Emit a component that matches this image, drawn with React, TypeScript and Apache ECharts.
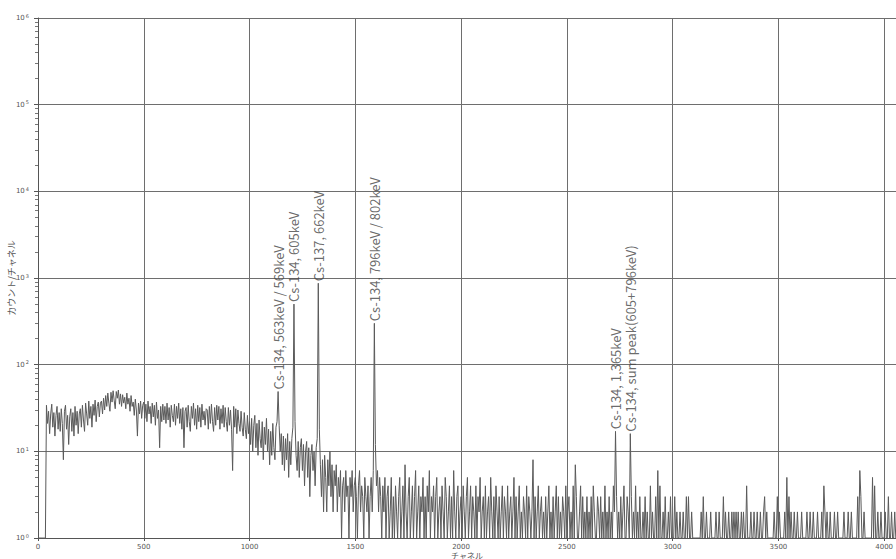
import React, { useEffect, useRef } from "react";
import * as echarts from "echarts";

// channel step between stored values
const CHANNEL_STEP = 5;

// counts per 5-channel step, channels 0 - 995
const spectrumLow = [
  1, 1, 1, 1, 1, 1, 1, 1, 34, 21, 29, 16, 27, 35, 19, 28, 15, 26, 33, 18,
  28, 17, 31, 21, 8, 29, 34, 18, 26, 12, 25, 31, 17, 28, 15, 33, 20, 29, 16, 27,
  31, 19, 34, 23, 17, 36, 27, 20, 38, 24, 33, 19, 35, 26, 39, 22, 33, 37, 25, 36,
  38, 27, 41, 30, 44, 33, 47, 36, 29, 48, 37, 50, 39, 31, 49, 41, 51, 35, 46, 33,
  45, 36, 42, 31, 47, 35, 41, 29, 44, 33, 37, 26, 40, 30, 15, 36, 27, 38, 24, 34,
  37, 24, 35, 22, 38, 27, 33, 21, 36, 25, 34, 20, 37, 24, 30, 11, 33, 22, 35, 23,
  33, 21, 36, 23, 32, 19, 34, 26, 22, 35, 20, 33, 24, 36, 21, 31, 18, 32, 11, 29,
  32, 19, 34, 22, 17, 33, 24, 36, 20, 31, 18, 34, 22, 32, 19, 35, 23, 29, 20, 31,
  30, 18, 33, 21, 35, 22, 17, 32, 20, 34, 23, 33, 18, 31, 21, 34, 19, 32, 22, 17,
  32, 20, 30, 18, 6, 33, 19, 31, 16, 30, 21, 17, 29, 19, 15, 28, 18, 14, 26, 16,
];

// channels 1000 - 1995
const spectrumMid = [
  22, 12, 24, 10, 20, 26, 11, 21, 9, 23, 14, 11, 22, 8, 19, 12, 24, 10, 18, 7,
  17, 9, 21, 11, 8, 19, 22, 49, 20, 10, 16, 7, 15, 6, 14, 8, 16, 5, 13, 7,
  14, 19, 500, 22, 9, 6, 13, 5, 11, 14, 6, 12, 4, 10, 13, 5, 11, 3, 9, 12,
  6, 10, 4, 11, 14, 870, 18, 7, 3, 8, 2, 9, 5, 2, 8, 4, 10, 3, 7, 2,
  6, 4, 7, 2, 5, 3, 6, 1, 4, 5, 2, 6, 3, 4, 1, 5, 3, 6, 2, 4,
  5, 3, 1, 4, 6, 2, 4, 3, 1, 5, 3, 2, 4, 1, 3, 5, 2, 6, 300, 12,
  4, 6, 2, 5, 3, 1, 4, 2, 5, 1, 3, 4, 1, 2, 5, 1, 3, 1, 4, 2,
  1, 3, 5, 1, 2, 4, 1, 7, 2, 1, 3, 5, 1, 2, 4, 1, 3, 6, 1, 2,
  4, 1, 3, 2, 5, 1, 3, 1, 4, 2, 6, 1, 3, 2, 4, 1, 3, 5, 1, 2,
  3, 1, 4, 2, 1, 5, 3, 1, 2, 4, 1, 3, 1, 6, 2, 1, 3, 4, 1, 2,
];

// channels 2000 - 2995
const spectrumHigh = [
  3, 1, 4, 2, 1, 3, 5, 1, 2, 4, 1, 3, 2, 1, 4, 1, 3, 2, 5, 1,
  2, 3, 1, 4, 1, 2, 3, 1, 5, 2, 1, 3, 1, 4, 2, 1, 3, 1, 2, 4,
  1, 3, 2, 1, 4, 1, 2, 3, 1, 2, 5, 1, 3, 1, 2, 4, 1, 2, 1, 3,
  2, 1, 4, 1, 3, 2, 1, 2, 8, 1, 3, 1, 2, 4, 1, 2, 3, 1, 2, 1,
  3, 1, 2, 4, 1, 2, 1, 3, 1, 2, 4, 1, 3, 1, 2, 1, 3, 2, 1, 4,
  1, 2, 3, 1, 2, 1, 4, 1, 7, 3, 1, 1, 2, 4, 1, 3, 1, 2, 1, 3,
  1, 2, 1, 3, 1, 4, 2, 1, 1, 3, 2, 1, 3, 1, 2, 1, 4, 1, 2, 1,
  3, 1, 2, 1, 4, 2, 17, 3, 1, 2, 1, 3, 1, 2, 4, 1, 1, 3, 2, 1,
  16, 3, 1, 2, 1, 4, 1, 2, 1, 3, 1, 1, 2, 1, 3, 1, 2, 1, 1, 4,
  1, 2, 1, 1, 3, 1, 6, 1, 4, 1, 1, 2, 1, 3, 1, 1, 2, 1, 3, 1,
];

// channels 3000 - 4055
const spectrumTail = [
  1, 1, 3, 1, 2, 1, 1, 2, 1, 1, 2, 1, 1, 3, 1, 3, 1, 1, 2, 1,
  1, 1, 1, 1, 1, 1, 1, 2, 1, 3, 1, 1, 2, 1, 1, 1, 2, 1, 1, 1,
  1, 2, 1, 1, 2, 1, 1, 1, 3, 1, 2, 1, 1, 2, 1, 1, 2, 1, 2, 1,
  2, 1, 2, 1, 1, 2, 1, 2, 1, 1, 4, 1, 1, 1, 2, 1, 1, 2, 1, 1,
  2, 1, 1, 2, 1, 1, 2, 3, 1, 2, 1, 1, 1, 1, 1, 1, 2, 1, 1, 3,
  1, 2, 1, 1, 1, 1, 2, 1, 5, 1, 3, 1, 2, 1, 1, 2, 1, 1, 2, 1,
  1, 1, 2, 1, 1, 1, 1, 2, 1, 1, 2, 1, 1, 2, 1, 1, 1, 2, 1, 1,
  1, 2, 1, 4, 2, 1, 2, 1, 1, 2, 1, 1, 1, 2, 1, 1, 2, 1, 1, 1,
  1, 1, 2, 1, 1, 1, 2, 1, 1, 2, 1, 1, 1, 1, 1, 3, 1, 6, 3, 1,
  1, 2, 1, 1, 1, 1, 1, 1, 1, 5, 1, 4, 1, 1, 2, 1, 1, 2, 1, 1,
  1, 2, 1, 1, 3, 1, 1, 2, 1, 1, 2, 1,
];

// peak annotations
const peakChannels = [1135, 1210, 1325, 1590, 2730, 2800];
const peakNames = [
  "Cs-134, 563keV / 569keV",
  "Cs-134, 605keV",
  "Cs-137, 662keV",
  "Cs-134, 796keV / 802keV",
  "Cs-134, 1,365keV",
  "Cs-134, sum peak(605+796keV)",
];

const xTickInterval = 500;
const yExponents = [0, 1, 2, 3, 4, 5, 6];
const minorMultipliers = [2, 3, 4, 5, 6, 7, 8, 9];

const FONT = "'Noto Sans CJK JP', 'DejaVu Sans', sans-serif";

export default function App() {
  const ref = useRef<HTMLDivElement>(null);
  useEffect(() => {
    if (!ref.current) return;
    const chart = echarts.init(ref.current, undefined, { renderer: "svg" });
    const counts = [...spectrumLow, ...spectrumMid, ...spectrumHigh, ...spectrumTail];
    const lineData = counts.map((c, i) => [i * CHANNEL_STEP, c]);
    const labelData = peakChannels.map((ch, i) => ({
      name: peakNames[i],
      value: [ch, counts[ch / CHANNEL_STEP]],
    }));
    const minorTicks: number[] = [];
    yExponents.slice(0, -1).forEach((e) => {
      minorMultipliers.forEach((m) => minorTicks.push(m * Math.pow(10, e)));
    });
    const gridColor = "#6e6e6e";
    chart.setOption({
      animation: false,
      backgroundColor: "#ffffff",
      grid: {
        left: 38,
        right: 0,
        top: 18,
        bottom: 21,
        containLabel: false,
        outerBoundsMode: "none",
      },
      xAxis: {
        type: "value",
        min: 0,
        max: 4056,
        interval: xTickInterval,
        name: "チャネル",
        nameLocation: "middle",
        nameGap: 13,
        nameMoveOverlap: false,
        nameTextStyle: { fontSize: 8, color: "#555", fontFamily: FONT },
        axisLine: { show: true, lineStyle: { color: "#555", width: 1 } },
        axisTick: { show: true, length: 3, lineStyle: { color: "#555" } },
        axisLabel: {
          fontSize: 7,
          color: "#555",
          margin: 5,
          showMaxLabel: false,
          fontFamily: "DejaVu Sans",
          formatter: (v: number) => String(v),
        },
        splitLine: { show: true, lineStyle: { color: gridColor, width: 1 } },
      },
      yAxis: [
        {
          type: "log",
          logBase: 10,
          min: 1,
          max: 1e6,
          name: "カウント/チャネル",
          nameLocation: "middle",
          nameGap: 22,
          nameRotate: 90,
          nameMoveOverlap: false,
          nameTextStyle: { fontSize: 9, color: "#555", fontFamily: FONT },
          axisLine: { show: true, lineStyle: { color: "#555", width: 1 } },
          axisTick: { show: true, length: 4, lineStyle: { color: "#555" } },
          axisLabel: {
            margin: 9,
            color: "#555",
            fontSize: 7,
            fontFamily: "DejaVu Sans",
            formatter: (v: number) => `10{s|${Math.round(Math.log10(v))}}`,
            rich: {
              s: { fontSize: 5, verticalAlign: "top", padding: [0, 0, 5, 1], color: "#555" },
            },
          },
          splitLine: { show: true, lineStyle: { color: gridColor, width: 1 } },
        },
        {
          type: "log",
          logBase: 10,
          min: 1,
          max: 1e6,
          position: "left",
          offset: 0,
          axisLine: { show: false },
          axisLabel: { show: false },
          splitLine: { show: false },
          axisTick: {
            show: true,
            length: 3,
            customValues: minorTicks,
            lineStyle: { color: "#777" },
          },
        },
      ],
      series: [
        {
          type: "line",
          data: lineData,
          showSymbol: false,
          symbol: "none",
          clip: true,
          lineStyle: { color: "#5a5a5a", width: 1 },
          z: 3,
        },
        {
          type: "scatter",
          data: labelData,
          symbol: "circle",
          symbolSize: 0,
          z: 4,
          label: {
            show: true,
            formatter: "{b}",
            position: "top",
            distance: 2,
            rotate: 90,
            align: "left",
            verticalAlign: "middle",
            fontSize: 13,
            color: "#444",
            fontFamily: FONT,
          },
        },
      ],
    });
    return () => chart.dispose();
  }, []);
  return (
    <div
      ref={ref}
      style={{ position: "fixed", left: 0, top: 0, width: 896, height: 559, background: "#fff" }}
    />
  );
}
